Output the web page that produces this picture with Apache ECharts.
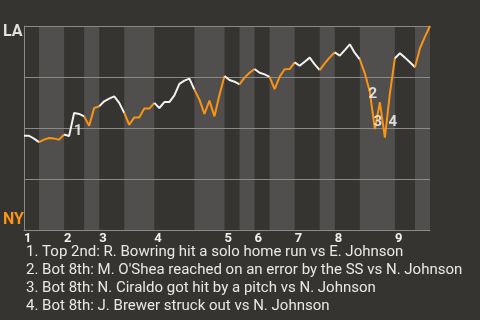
<!DOCTYPE html>
<html><head><meta charset="utf-8">
<script src="https://cdn.jsdelivr.net/npm/echarts@6/dist/echarts.min.js"></script>
<style>html,body{margin:0;padding:0;background:#363430;}#c{width:480px;height:320px;}</style>
</head><body><div id="c"></div>
<script>
// LA win probability after each plate appearance (0 = NY wins, 1 = LA wins)
const winProb = [
  0.462,0.462,0.448,0.431,0.443,0.451,0.448,0.443,0.468,0.461,
  0.574,0.569,0.557,0.511,0.598,0.606,0.631,0.644,0.655,0.623,
  0.574,0.516,0.552,0.552,0.595,0.595,0.623,0.598,0.627,0.627,
  0.660,0.716,0.732,0.742,0.688,0.639,0.569,0.634,0.557,0.663,
  0.755,0.735,0.727,0.714,0.747,0.771,0.789,0.771,0.763,0.751,
  0.691,0.751,0.788,0.789,0.822,0.805,0.825,0.845,0.812,0.784,
  0.817,0.846,0.871,0.855,0.882,0.910,0.868,0.836,0.768,0.676,
  0.495,0.626,0.453,0.670,0.842,0.866,0.845,0.822,0.798,0.891,
  0.948,1.000
];
// plate appearances in each half-inning (top 1st, bottom 1st, ...)
const halfInningPA = [3,5,4,3,5,6,8,6,3,3,3,5,5,3,5,7,4,3];
const inningLabels = ['1','2','3','4','5','6','7','8','9'];
const eventIndex = [10,69,70,72];
const eventLabels = ['1','2','3','4'];
const eventNotes = [
  '1. Top 2nd: R. Bowring hit a solo home run vs E. Johnson',
  "2. Bot 8th: M. O'Shea reached on an error by the SS vs N. Johnson",
  '3. Bot 8th: N. Ciraldo got hit by a pitch vs N. Johnson',
  '4. Bot 8th: J. Brewer struck out vs N. Johnson'
];
const teamTop = 'LA';
const teamBottom = 'NY';

const WHITE = '#f2f2f2', ORANGE = '#fa9414', BAND = '#504f4d', GRIDC = '#8a8a88', BG = '#363430';
const labelOffsets = [[4,18],[3,2],[3,-7],[8,-15]];

const bounds = [0];
halfInningPA.forEach(n => bounds.push(bounds[bounds.length-1] + n));
const total = bounds[bounds.length-1];
const inningStarts = bounds.filter((b,i) => i % 2 === 0 && i < halfInningPA.length);

const series = [];
const bandData = [];
for (let h = 1; h < halfInningPA.length; h += 2) {
  bandData.push([{xAxis: bounds[h]}, {xAxis: bounds[h+1]}]);
}
series.push({
  type: 'line', data: [], z: 1, silent: true,
  markArea: { silent: true, itemStyle: {color: BAND}, data: bandData }
});
for (let h = 0; h < halfInningPA.length; h++) {
  const pts = [];
  for (let i = bounds[h]; i <= bounds[h+1]; i++) pts.push([i, winProb[i]]);
  series.push({
    type: 'line', data: pts, z: 3, showSymbol: false, symbol: 'none', silent: true,
    lineStyle: {color: h % 2 === 0 ? WHITE : ORANGE, width: 2}, animation: false
  });
}
series.push({
  type: 'scatter', z: 5, symbolSize: 0, silent: true,
  data: eventIndex.map((ix, k) => ({
    value: [ix, winProb[ix]],
    label: {show: true, formatter: eventLabels[k], offset: labelOffsets[k]}
  })),
  label: {position: 'inside', color: '#ffffff', fontFamily: 'Roboto', fontWeight: 'bold', fontSize: 15}
});

const graphics = [
  {type: 'text', x: 3, y: 32, style: {text: teamTop, fill: '#e0e0e0', font: 'bold 16px Roboto', verticalAlign: 'middle'}},
  {type: 'text', x: 3, y: 220, style: {text: teamBottom, fill: ORANGE, font: 'bold 16px Roboto', verticalAlign: 'middle'}}
];
eventNotes.forEach((t, k) => {
  graphics.push({type: 'text', x: 26, y: 252.5 + k*18, style: {text: t, fill: '#e8e8e8', font: '15px Roboto', verticalAlign: 'middle'}});
});

const chart = echarts.init(document.getElementById('c'), null, {renderer: 'canvas'});
chart.setOption({
  backgroundColor: BG,
  animation: false,
  grid: {left: 24, right: 50, top: 26, bottom: 90, containLabel: false, outerBoundsMode: 'none'},
  xAxis: {
    type: 'value', min: 0, max: total, z: 2,
    splitLine: {show: false},
    axisLine: {show: true, lineStyle: {color: GRIDC, width: 1}},
    axisTick: {show: false},
    axisLabel: {
      show: true, customValues: inningStarts, align: 'left', margin: 2,
      color: '#f0f0f0', fontFamily: 'Roboto', fontWeight: 'bold', fontSize: 13,
      formatter: v => inningLabels[inningStarts.indexOf(v)]
    }
  },
  yAxis: {
    type: 'value', min: 0, max: 1, interval: 0.25, z: 2,
    axisLine: {show: true, lineStyle: {color: GRIDC, width: 1}},
    axisTick: {show: false}, axisLabel: {show: false},
    splitLine: {show: true, lineStyle: {color: GRIDC, width: 1}}
  },
  graphic: graphics,
  series: series
});
</script></body></html>
